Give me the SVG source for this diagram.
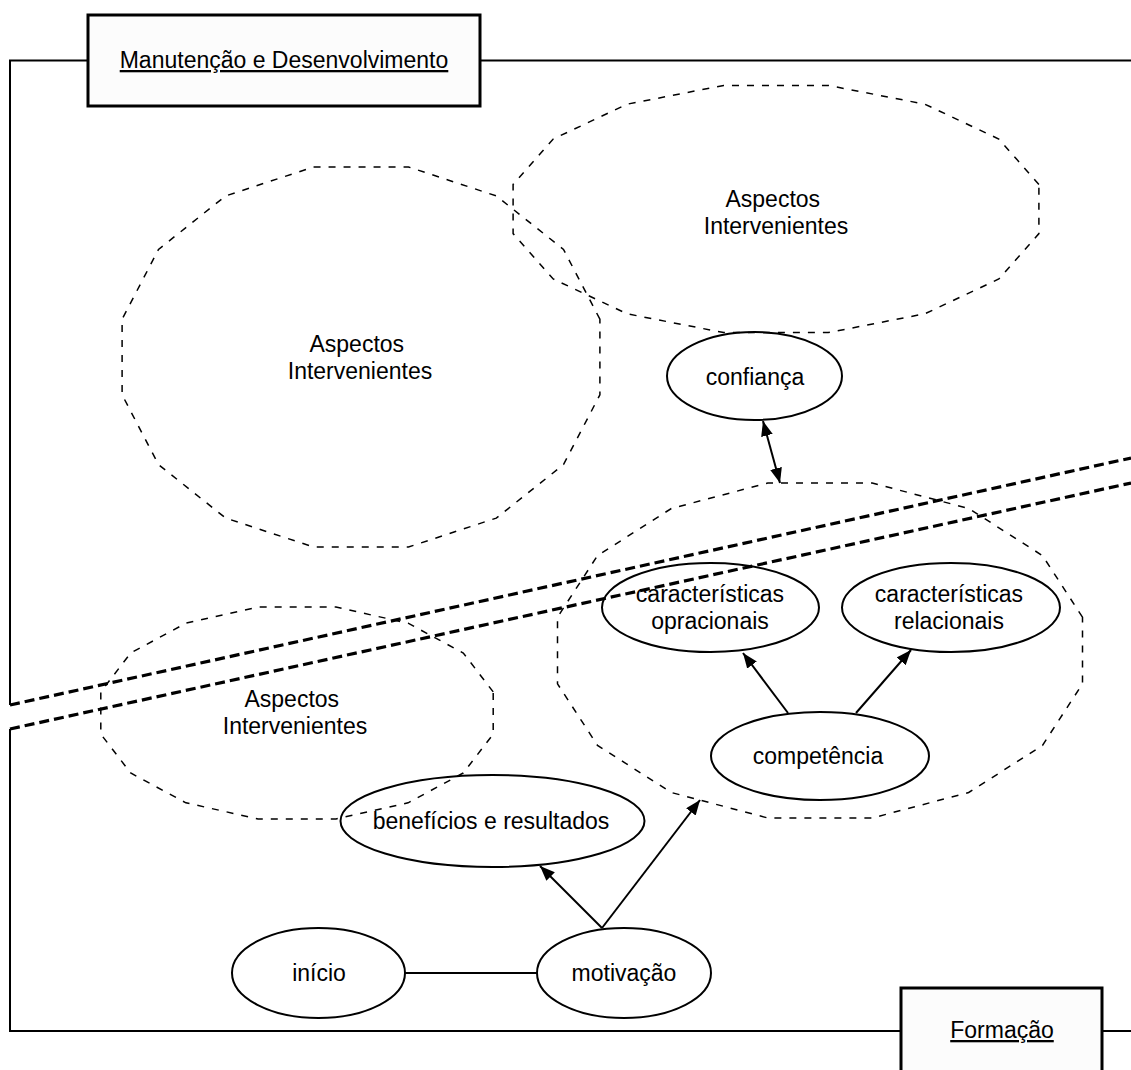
<svg xmlns="http://www.w3.org/2000/svg" width="1131" height="1070" viewBox="0 0 1131 1070">
  <defs>
    <style>
      text { font-family: "Liberation Sans", Arial, sans-serif; font-size: 23px; fill: #000; text-anchor: middle; }
      .u { text-decoration: underline; }
      .frame { fill: none; stroke: #000; stroke-width: 2; }
      .box { fill: #fcfcfc; stroke: #000; stroke-width: 3; }
      .zone { fill: none; stroke: #000; stroke-width: 1.5; stroke-dasharray: 7 8; }
      .border { fill: none; stroke: #000; stroke-width: 3.2; stroke-dasharray: 10 5; }
      .node { fill: none; stroke: #000; stroke-width: 2; }
      .link { fill: none; stroke: #000; stroke-width: 2; }
    </style>
    <marker id="head" markerUnits="userSpaceOnUse" markerWidth="15" markerHeight="12" refX="15" refY="6" orient="auto-start-reverse">
      <path d="M0,0 L15,6 L0,12 z" fill="#000"/>
    </marker>
  </defs>

  <rect x="0" y="0" width="1131" height="1070" fill="#fff"/>

  <!-- outer frame split by the two dashed boundary lines -->
  <g id="frame">
    <polyline class="frame" points="88,60.5 10,60.5 10,705"/>
    <line class="frame" x1="480" y1="60.5" x2="1131" y2="60.5"/>
    <polyline class="frame" points="10,729 10,1031 901,1031"/>
    <line class="frame" x1="1102" y1="1031" x2="1131" y2="1031"/>
  </g>

  <g id="boundary">
    <line class="border" x1="10" y1="705" x2="1131" y2="458"/>
    <line class="border" x1="10" y1="729" x2="1131" y2="483"/>
  </g>

  <g id="box-manutencao">
    <rect class="box" x="88" y="15" width="392" height="91"/>
    <text class="u" x="284" y="68">Manutenção e Desenvolvimento</text>
  </g>

  <g id="box-formacao">
    <rect class="box" x="901" y="988" width="201" height="91"/>
    <text class="u" x="1002" y="1038">Formação</text>
  </g>

  <!-- dashed zones of intervening aspects -->
  <g id="zone-1">
    <polygon class="zone" points="599.9,319.2 563.5,249.4 496.3,195.9 408.5,167 313.5,167 225.7,195.9 158.5,249.4 122.1,319.2 122.1,394.8 158.5,464.6 225.7,518.1 313.5,547 408.5,547 496.3,518.1 563.5,464.6 599.9,394.8"/>
    <text x="356.8" y="352">Aspectos</text>
    <text x="360" y="378.5">Intervenientes</text>
  </g>

  <g id="zone-2">
    <polygon class="zone" points="1038.9,184.4 998.8,139 924.9,104.2 828.3,85.4 723.7,85.4 627.1,104.2 553.2,139 513.1,184.4 513.1,233.6 553.2,279 627.1,313.8 723.7,332.6 828.3,332.6 924.9,313.8 998.8,279 1038.9,233.6"/>
    <text x="772.8" y="207">Aspectos</text>
    <text x="776" y="234">Intervenientes</text>
  </g>

  <g id="zone-3">
    <polygon class="zone" points="1082.5,617.2 1042.5,555.6 968.7,508.5 872.2,483 767.8,483 671.3,508.5 597.5,555.6 557.5,617.2 557.5,683.8 597.5,745.4 671.3,792.5 767.8,818 872.2,818 968.7,792.5 1042.5,745.4 1082.5,683.8"/>
  </g>

  <g id="zone-4">
    <polygon class="zone" points="493.2,691.9 463.3,653 408.1,623.2 336,607.1 258,607.1 185.9,623.2 130.7,653 100.8,691.9 100.8,734.1 130.7,773 185.9,802.8 258,818.9 336,818.9 408.1,802.8 463.3,773 493.2,734.1"/>
    <text x="291.8" y="707">Aspectos</text>
    <text x="295" y="734">Intervenientes</text>
  </g>

  <!-- concept nodes -->
  <g id="confianca">
    <ellipse class="node" cx="754.5" cy="376" rx="87.5" ry="44"/>
    <text x="755" y="385">confiança</text>
  </g>

  <g id="caracteristicas-opracionais">
    <ellipse class="node" cx="710.5" cy="607.5" rx="108.5" ry="44.5"/>
    <text x="710" y="602">características</text>
    <text x="710" y="628.5">opracionais</text>
  </g>

  <g id="caracteristicas-relacionais">
    <ellipse class="node" cx="951" cy="607.5" rx="109" ry="44.5"/>
    <text x="949" y="602">características</text>
    <text x="949" y="628.5">relacionais</text>
  </g>

  <g id="competencia">
    <ellipse class="node" cx="820" cy="756" rx="109" ry="44"/>
    <text x="818" y="764">competência</text>
  </g>

  <g id="beneficios">
    <ellipse class="node" cx="492.5" cy="821" rx="152" ry="46"/>
    <text x="491" y="829">benefícios e resultados</text>
  </g>

  <g id="inicio">
    <ellipse class="node" cx="318.5" cy="973" rx="86.5" ry="45"/>
    <text x="319" y="981">início</text>
  </g>

  <g id="motivacao">
    <ellipse class="node" cx="624" cy="973" rx="87" ry="45"/>
    <text x="624" y="981">motivação</text>
  </g>

  <!-- connectors -->
  <g id="connectors">
    <line class="link" x1="763" y1="421" x2="780" y2="483" marker-start="url(#head)" marker-end="url(#head)"/>
    <line class="link" x1="788" y1="713" x2="743" y2="653" marker-end="url(#head)"/>
    <line class="link" x1="856" y1="713" x2="911" y2="650" marker-end="url(#head)"/>
    <line class="link" x1="602" y1="928" x2="540" y2="866" marker-end="url(#head)"/>
    <line class="link" x1="602" y1="928" x2="700" y2="800" marker-end="url(#head)"/>
    <line class="link" x1="405" y1="973" x2="537" y2="973"/>
  </g>
</svg>
